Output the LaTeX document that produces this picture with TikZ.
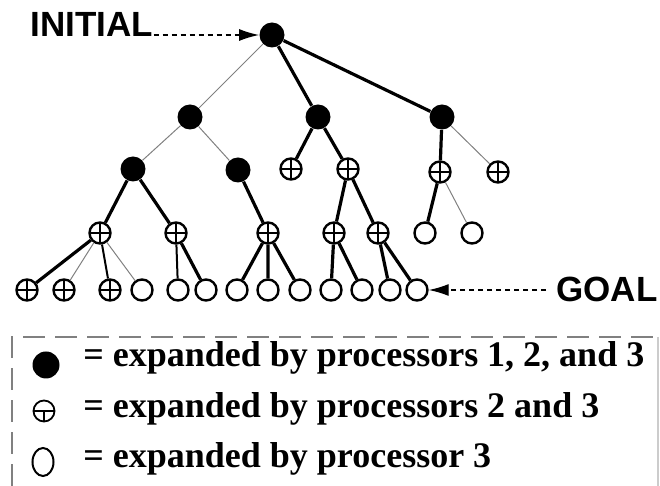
\documentclass[tikz,border=0pt]{standalone}
\usepackage{fontspec}
\setmainfont{Liberation Serif}
\setsansfont{Liberation Sans}
\usetikzlibrary{arrows.meta,shapes.geometric}

\begin{document}
\begin{tikzpicture}[x=0.5pt,y=-0.5pt,
    allproc/.style={circle,fill,inner sep=0pt,minimum size=12.5pt},
    oneproc/.style={circle,draw,line width=1.2pt,inner sep=0pt,minimum size=10.5pt},
    twoproc/.style={oneproc,
      path picture={\draw[line width=0.6pt]
        (path picture bounding box.north) -- (path picture bounding box.south)
        (path picture bounding box.west) -- (path picture bounding box.east);}},
    lightedge/.style={gray,line width=0.5pt},
    midedge/.style={line width=1pt},
    heavyedge/.style={line width=1.6pt},
    pointer/.style={dash pattern=on 2.5pt off 2pt,line width=0.7pt,-{Latex[length=10pt,width=6pt]}},
    bigword/.style={font=\sffamily\bfseries\fontsize{17.5}{20}\selectfont,inner sep=0pt},
    keytext/.style={font=\bfseries\fontsize{18}{21}\selectfont,inner sep=0pt,anchor=base west}]
            \useasboundingbox (0,0) rectangle (660,486);

            % search tree
            \node (r) at (272,35) [allproc] {};
            \node (a) at (190,117) [allproc] {};
            \node (b) at (318,117) [allproc] {};
            \node (c) at (442,117) [allproc] {};
            \node (a1) at (133,169) [allproc] {};
            \node (a2) at (238,170) [allproc] {};
            \node (b1) at (291,169) [twoproc] {};
            \node (b2) at (348,169) [twoproc] {};
            \node (c1) at (440,172) [twoproc] {};
            \node (c2) at (498,172) [twoproc] {};
            \node (a1a) at (100,233) [twoproc] {};
            \node (a1b) at (176,233) [twoproc] {};
            \node (a2a) at (268,233) [twoproc] {};
            \node (b2a) at (334,233) [twoproc] {};
            \node (b2b) at (378,233) [twoproc] {};
            \node (c1a) at (425,233) [oneproc] {};
            \node (c1b) at (472,233) [oneproc] {};

            % goal level
            \node (l1) at (27,290) [twoproc] {};
            \node (l2) at (64,290) [twoproc] {};
            \node (l3) at (110,290) [twoproc] {};
            \node (l4) at (142,290) [oneproc] {};
            \node (l5) at (178,290) [oneproc] {};
            \node (l6) at (206,290) [oneproc] {};
            \node (l7) at (237,290) [oneproc] {};
            \node (l8) at (268,290) [oneproc] {};
            \node (l9) at (300,290) [oneproc] {};
            \node (l10) at (331,290) [oneproc] {};
            \node (l11) at (362,290) [oneproc] {};
            \node (l12) at (390,290) [oneproc] {};
            \node (l13) at (417,290) [oneproc] {};

            \draw[lightedge] (r) -- (a) (a) -- (a1) (a) -- (a2) (c) -- (c2)
                (a1a) -- (l2) (a1a) -- (l4) (c1) -- (c1b);
            \draw[midedge] (a1a) -- (l3) (a1b) -- (l5);
            \draw[heavyedge] (r) -- (b) (r) -- (c) (b) -- (b1) (b) -- (b2) (c) -- (c1)
                (a1) -- (a1a) (a1) -- (a1b) (a2) -- (a2a) (b2) -- (b2a) (b2) -- (b2b)
                (c1) -- (c1a) (a1a) -- (l1) (a1b) -- (l6)
                (a2a) -- (l7) (a2a) -- (l8) (a2a) -- (l9)
                (b2a) -- (l10) (b2a) -- (l11) (b2b) -- (l12) (b2b) -- (l13);

            \node (initial) at (92,24) [bigword] {INITIAL};
            \node (goal) at (607,289) [bigword] {GOAL};
            \draw[pointer] (initial.east |- r) -- (r);
            \draw[pointer] ([xshift=-5pt]goal.west |- l13) -- (l13);

            % legend
            \draw[gray,line width=0.8pt,dash pattern=on 11pt off 5pt] (12,486) -- (12,337) -- (660,337);
            \draw[gray!40,line width=0.6pt] (658,337) -- (658,486);
            \node (keyall) at (46,365) [allproc,minimum size=13.5pt] {};
            \node (keytwo) at (44,411) [circle,draw,line width=0.9pt,inner sep=0pt,minimum size=10.5pt,
                path picture={\draw[line width=0.6pt]
                  (path picture bounding box.west) -- (path picture bounding box.east)
                  (path picture bounding box.center) -- (path picture bounding box.south);}] {};
            \node (keyone) at (43,462) [ellipse,draw,line width=1pt,inner sep=0pt,minimum width=10.5pt,minimum height=14pt] {};
            \node (allline) at (83,367) [keytext] {= expanded by processors 1, 2, and 3};
            \node (twoline) at (83,418) [keytext] {= expanded by processors 2 and 3};
            \node (oneline) at (83,468) [keytext] {= expanded by processor 3};

        \end{tikzpicture}
\end{document}
